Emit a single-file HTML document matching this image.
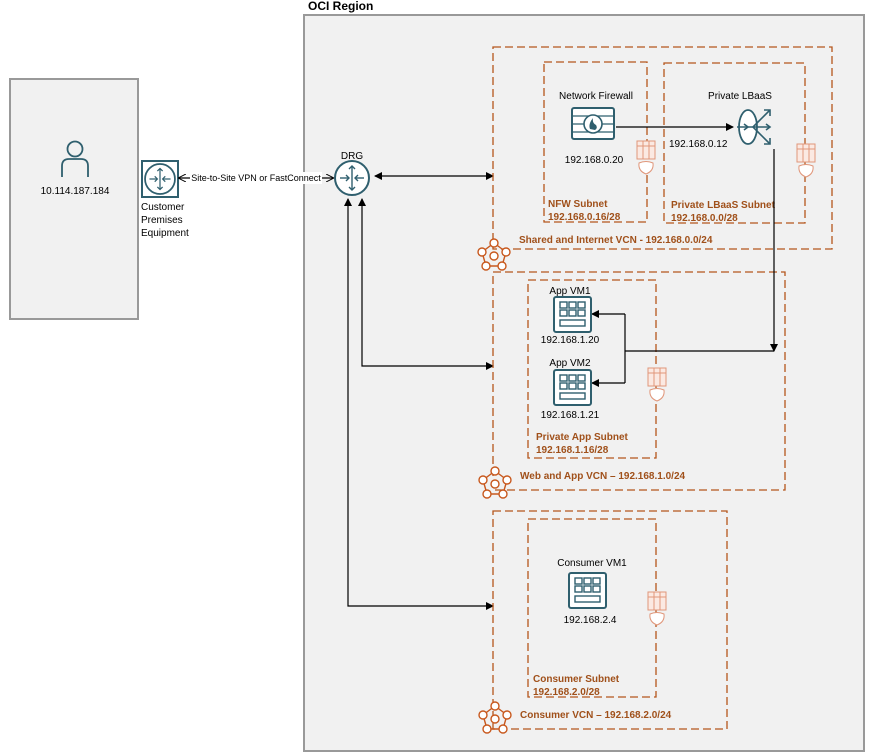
<!DOCTYPE html>
<html><head><meta charset="utf-8"><style>
html,body{margin:0;padding:0;background:#fff;}
svg{display:block;font-family:"Liberation Sans",sans-serif;}
.t{font-size:10px;fill:#000;}
.o{font-size:10px;fill:#a0501a;font-weight:bold;}
.d{fill:none;stroke:#b5561c;stroke-width:1.3;stroke-dasharray:8,4;}
.l{stroke:#000;stroke-width:1.2;fill:none;}
</style></head><body>
<svg width="873" height="755" viewBox="0 0 873 755">
<defs>
<marker id="a" markerWidth="8" markerHeight="8" refX="7" refY="4" orient="auto-start-reverse" markerUnits="userSpaceOnUse"><path d="M0,0 L8,4 L0,8 z" fill="#000"/></marker>
<marker id="v" markerWidth="8" markerHeight="8" refX="7" refY="4" orient="auto-start-reverse" markerUnits="userSpaceOnUse"><path d="M0,0 L8,4 L0,8" fill="none" stroke="#000"/></marker>
<g id="vm"><rect x="0" y="0" width="37" height="35" rx="2" fill="#fff" stroke="#2f5f6e" stroke-width="2"/>
<g fill="none" stroke="#2f5f6e" stroke-width="1.4"><rect x="6" y="5" width="7" height="6"/><rect x="15" y="5" width="7" height="6"/><rect x="24" y="5" width="7" height="6"/><rect x="6" y="13" width="7" height="6"/><rect x="15" y="13" width="7" height="6"/><rect x="24" y="13" width="7" height="6"/><rect x="6" y="23" width="25" height="6"/></g></g>
<g id="sec" fill="none" stroke="#e0967a" stroke-width="1"><rect x="0" y="0" width="18" height="18" fill="#fbe9e2"/><line x1="6" y1="0" x2="6" y2="18"/><line x1="12" y1="0" x2="12" y2="18"/><line x1="0" y1="5" x2="18" y2="5"/><path d="M2,22 Q9,19 16,22 Q17,30 9,33 Q1,30 2,22z" fill="#fff"/></g>
<g id="vcn" fill="#fff" stroke="#c8581d" stroke-width="1.4"><path d="M0,-12 L12,-3 L8,11 L-8,11 L-12,-3z" fill="none"/><circle cx="0" cy="-12" r="4"/><circle cx="12" cy="-3" r="4"/><circle cx="8" cy="11" r="4"/><circle cx="-8" cy="11" r="4"/><circle cx="-12" cy="-3" r="4"/><circle cx="0" cy="1" r="4"/></g>
<g id="rt"><circle r="17" fill="#fff" stroke="#2f5f6e" stroke-width="2"/><g stroke="#2f5f6e" stroke-width="1.4" fill="none"><line x1="-12" y1="0" x2="-3" y2="0"/><path d="M-6,-3 L-3,0 L-6,3"/><line x1="12" y1="0" x2="3" y2="0"/><path d="M6,-3 L3,0 L6,3"/><line x1="0" y1="-12" x2="0" y2="12"/><path d="M-3,-9 L0,-12 L3,-9 M-3,9 L0,12 L3,9"/></g></g>
</defs>
<rect x="10" y="79" width="128" height="240" fill="#f1f1f1" stroke="#999" stroke-width="2"/>
<circle cx="75" cy="149" r="7.5" fill="none" stroke="#2f5f6e" stroke-width="1.8"/>
<path d="M62,177 L62,166 Q62,159 69,159 L81,159 Q88,159 88,166 L88,177" fill="none" stroke="#2f5f6e" stroke-width="1.8"/>
<text class="t" x="75" y="194" text-anchor="middle">10.114.187.184</text>
<rect x="304" y="15" width="560" height="736" fill="#f1f1f1" stroke="#999" stroke-width="2"/>
<text x="308" y="10" style="font-size:12px;font-weight:bold">OCI Region</text>
<rect x="142" y="161" width="36" height="36" fill="#fff" stroke="#2f5f6e" stroke-width="2"/>
<use href="#rt" transform="translate(160,179) scale(0.88)"/>
<text class="t" x="141" y="210">Customer</text><text class="t" x="141" y="223">Premises</text><text class="t" x="141" y="236">Equipment</text>
<line class="l" x1="179" y1="178" x2="333" y2="178" marker-start="url(#v)" marker-end="url(#v)"/>
<rect x="190" y="172" width="132" height="12" fill="#fff"/>
<text x="256" y="181" text-anchor="middle" style="font-size:9px">Site-to-Site VPN or FastConnect</text>
<use href="#rt" transform="translate(352,178)"/>
<text class="t" x="352" y="159" text-anchor="middle">DRG</text>
<line class="l" x1="375" y1="176" x2="493" y2="176" marker-start="url(#a)" marker-end="url(#a)"/>
<path class="l" d="M348,199 L348,606 L493,606" marker-start="url(#a)" marker-end="url(#a)"/>
<path class="l" d="M362,199 L362,366 L493,366" marker-start="url(#a)" marker-end="url(#a)"/>
<rect class="d" x="493" y="47" width="339" height="202"/>
<rect class="d" x="544" y="62" width="103" height="160"/>
<rect class="d" x="664" y="63" width="141" height="160"/>
<text class="t" x="596" y="99" text-anchor="middle">Network Firewall</text>
<rect x="572" y="108" width="42" height="31" rx="2" fill="#fff" stroke="#2f5f6e" stroke-width="2"/>
<g stroke="#2f5f6e" stroke-width="1.2"><line x1="572" y1="116" x2="614" y2="116"/><line x1="572" y1="124" x2="614" y2="124"/><line x1="572" y1="132" x2="614" y2="132"/></g>
<circle cx="593" cy="124" r="9" fill="#fff" stroke="#2f5f6e" stroke-width="1.6"/>
<path d="M590,129 Q588,124 593,118 Q592,123 596,125 Q598,128 595,130z" fill="#2f5f6e"/>
<text class="t" x="594" y="163" text-anchor="middle">192.168.0.20</text>
<line class="l" x1="616" y1="127" x2="733" y2="127" marker-end="url(#a)"/>
<text class="t" x="740" y="99" text-anchor="middle">Private LBaaS</text>
<ellipse cx="748" cy="127" rx="9" ry="17" fill="#fff" stroke="#2f5f6e" stroke-width="1.8"/>
<g stroke="#2f5f6e" stroke-width="1.6" fill="none"><line x1="737" y1="127" x2="770" y2="127"/><line x1="753" y1="127" x2="770" y2="110"/><line x1="753" y1="127" x2="770" y2="144"/><path d="M744,124 L748,127 L744,130 M766,124 L770,127 L766,130 M764,110 L770,110 L770,116 M770,138 L770,144 L764,144"/></g>
<text class="t" x="669" y="147">192.168.0.12</text>
<use href="#sec" transform="translate(637,141)"/>
<use href="#sec" transform="translate(797,144)"/>
<text class="o" x="548" y="207">NFW Subnet</text><text class="o" x="548" y="220">192.168.0.16/28</text>
<text class="o" x="671" y="208">Private LBaaS Subnet</text><text class="o" x="671" y="221">192.168.0.0/28</text>
<use href="#vcn" transform="translate(494,255)"/>
<text class="o" x="519" y="243">Shared and Internet VCN - 192.168.0.0/24</text>
<rect class="d" x="493" y="272" width="292" height="218"/>
<rect class="d" x="528" y="280" width="128" height="178"/>
<line class="l" x1="774" y1="149" x2="774" y2="351" marker-end="url(#a)"/>
<line class="l" x1="625" y1="351" x2="774" y2="351"/>
<path class="l" d="M625,314 L625,383"/>
<line class="l" x1="625" y1="314" x2="592" y2="314" marker-end="url(#a)"/>
<line class="l" x1="625" y1="383" x2="592" y2="383" marker-end="url(#a)"/>
<text class="t" x="570" y="294" text-anchor="middle">App VM1</text>
<use href="#vm" transform="translate(554,297)"/>
<text class="t" x="570" y="343" text-anchor="middle">192.168.1.20</text>
<text class="t" x="570" y="366" text-anchor="middle">App VM2</text>
<use href="#vm" transform="translate(554,370)"/>
<text class="t" x="570" y="418" text-anchor="middle">192.168.1.21</text>
<use href="#sec" transform="translate(648,368)"/>
<text class="o" x="536" y="440">Private App Subnet</text><text class="o" x="536" y="453">192.168.1.16/28</text>
<use href="#vcn" transform="translate(495,483)"/>
<text class="o" x="520" y="479">Web and App VCN – 192.168.1.0/24</text>
<rect class="d" x="493" y="511" width="234" height="218"/>
<rect class="d" x="528" y="519" width="128" height="178"/>
<text class="t" x="592" y="566" text-anchor="middle">Consumer VM1</text>
<use href="#vm" transform="translate(569,573)"/>
<text class="t" x="590" y="623" text-anchor="middle">192.168.2.4</text>
<use href="#sec" transform="translate(648,592)"/>
<text class="o" x="533" y="682">Consumer Subnet</text><text class="o" x="533" y="695">192.168.2.0/28</text>
<use href="#vcn" transform="translate(495,718)"/>
<text class="o" x="520" y="718">Consumer VCN – 192.168.2.0/24</text>
</svg>
</body></html>
